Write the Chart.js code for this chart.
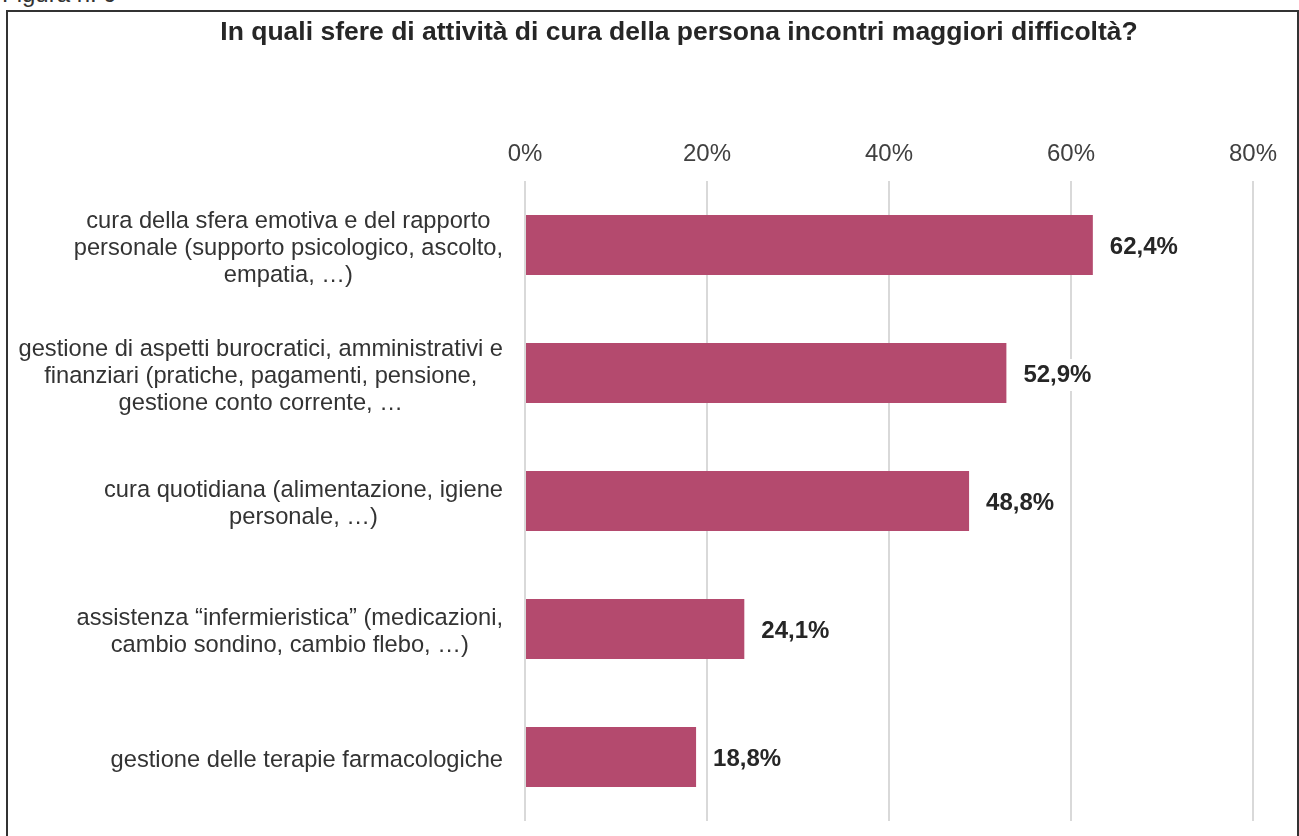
<!DOCTYPE html>
<html>
<head>
<meta charset="utf-8">
<script src="https://cdn.jsdelivr.net/npm/chart.js@4.4.1/dist/chart.umd.min.js"></script>
<style>
  body { margin: 0; background: #fff; overflow: hidden; font-family: "Liberation Sans", Arial, sans-serif; }
  #fig { position: absolute; left: 2px; top: -18px; font-size: 24px; line-height: 24px; color: #333; }
  #box { position: absolute; left: 6px; top: 10px; width: 1289px; height: 900px; border: 2px solid #333; border-bottom: none; }
  #wrap { width: 1289px; height: 824px; }
</style>
</head>
<body>
<div id="fig">Figura n. 9</div>
<div id="box"><div id="wrap"><canvas id="myChart"></canvas></div></div>
<script>
// categories, one array of lines each (as wrapped in the original)
const categories = [
  ['cura della sfera emotiva e del rapporto', 'personale (supporto psicologico, ascolto,', 'empatia, …)'],
  ['gestione di aspetti burocratici, amministrativi e', 'finanziari (pratiche, pagamenti, pensione,', 'gestione conto corrente, …'],
  ['cura quotidiana (alimentazione, igiene', 'personale, …)'],
  ['assistenza “infermieristica” (medicazioni,', 'cambio sondino, cambio flebo, …)'],
  ['gestione delle terapie farmacologiche']
];
const values = [62.4, 52.9, 48.8, 24.1, 18.8];
const ticksPct = [0, 20, 40, 60, 80];
const titleText = 'In quali sfere di attività di cura della persona incontri maggiori difficoltà?';

const FONT = '"Liberation Sans", Arial, sans-serif';

// category labels: block right-aligned to the axis, lines centred within the block
const catLabels = {
  id: 'catLabels',
  afterDraw(chart) {
    const ctx = chart.ctx, y = chart.scales.y, left = chart.chartArea.left;
    ctx.save();
    ctx.font = '23.7px ' + FONT;
    ctx.fillStyle = '#333';
    ctx.textAlign = 'center';
    ctx.textBaseline = 'middle';
    categories.forEach(function(lines, i) {
      const yc = y.getPixelForTick(i);
      const w = Math.max.apply(null, lines.map(l => ctx.measureText(l).width));
      const xc = left - 22 - w / 2;
      lines.forEach(function(l, j) {
        ctx.fillText(l, xc, yc + 3 + (j - (lines.length - 1) / 2) * 27);
      });
    });
    ctx.restore();
  }
};

// value labels at the end of each bar, on a white patch
const valueLabels = {
  id: 'valueLabels',
  afterDatasetsDraw(chart) {
    const ctx = chart.ctx;
    ctx.save();
    ctx.font = 'bold 24px ' + FONT;
    ctx.textAlign = 'left';
    ctx.textBaseline = 'middle';
    chart.getDatasetMeta(0).data.forEach(function(bar, i) {
      const txt = values[i].toFixed(1).replace('.', ',') + '%';
      const x = bar.x + 17, yy = bar.y + 2;
      const w = ctx.measureText(txt).width;
      ctx.fillStyle = '#fff';
      ctx.fillRect(x - 2, yy - 16, w + 4, 32);
      ctx.fillStyle = '#262626';
      ctx.fillText(txt, x, yy);
    });
    ctx.restore();
  }
};

const ctx = document.getElementById('myChart').getContext('2d');
const myChart = new Chart(ctx, {
  type: 'bar',
  data: {
    labels: categories,
    datasets: [{
      data: values,
      backgroundColor: '#b44a6e',
      barPercentage: 0.47,
      categoryPercentage: 1
    }]
  },
  options: {
    indexAxis: 'y',
    responsive: true,
    maintainAspectRatio: false,
    animation: false,
    layout: { padding: { left: 97, right: 44, top: 0, bottom: 15 } },
    scales: {
      x: {
        position: 'top',
        min: ticksPct[0],
        max: ticksPct[ticksPct.length - 1],
        afterBuildTicks: function(s) { s.ticks = ticksPct.map(v => ({ value: v })); },
        afterFit: function(s) { s.height = 123.2; },
        ticks: {
          callback: v => v + '%',
          font: { family: FONT, size: 24 },
          color: '#404040',
          padding: 12,
          maxRotation: 0
        },
        grid: { color: '#d9d9d9', lineWidth: 2, drawTicks: false },
        border: { display: false }
      },
      y: {
        ticks: { display: false },
        afterFit: function(s) { s.width = 420; },
        grid: { display: false },
        border: { display: false }
      }
    },
    plugins: {
      legend: { display: false },
      tooltip: { enabled: false },
      title: {
        display: true,
        text: titleText,
        font: { family: FONT, size: 26.5, weight: 'bold' },
        color: '#262626',
        padding: { top: 5, bottom: 9 }
      }
    }
  },
  plugins: [catLabels, valueLabels]
});
</script>
</body>
</html>
